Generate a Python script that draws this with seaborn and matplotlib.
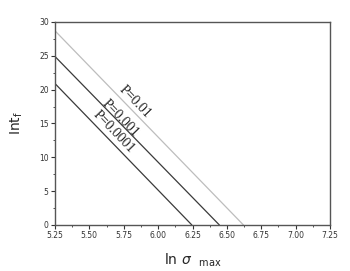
import matplotlib
matplotlib.use("Agg")
import matplotlib.pyplot as plt
import seaborn as sns
import pandas as pd
from matplotlib.ticker import MultipleLocator

# Data
labels = ["P=0.0001", "P=0.001", "P=0.01"]
x_start = [5.25, 5.25, 5.25]
y_start = [20.9, 24.9, 28.7]
x_end = [6.245, 6.445, 6.62]
y_end = [0.0, 0.0, 0.0]
label_x = [5.673, 5.723, 5.832]
label_y = [13.7, 15.8, 18.2]
colors = ["#3a3a3a", "#3a3a3a", "#bdbdbd"]

rows = []
for lab, xs, ys, xe, ye in zip(labels, x_start, y_start, x_end, y_end):
    rows.append({"P": lab, "x": xs, "y": ys})
    rows.append({"P": lab, "x": xe, "y": ye})
df = pd.DataFrame(rows)

sns.set_style("white")
plt.rcParams["font.family"] = ["DejaVu Sans"]

fig = plt.figure(figsize=(3.5, 2.71), dpi=100)
ax = fig.add_axes([0.157, 0.170, 0.786, 0.749])

sns.lineplot(data=df, x="x", y="y", hue="P", palette=dict(zip(labels, colors)),
             linewidth=0.9, legend=False, ax=ax, sort=False, estimator=None)

for lab, lx, ly in zip(labels, label_x, label_y):
    ax.text(lx, ly, lab, rotation=-46, ha="center", va="center",
            fontsize=10, family="Liberation Serif", color="#222222",
            rotation_mode="anchor")

ax.set_xlim(5.25, 7.25)
ax.set_ylim(0, 30)
ax.xaxis.set_major_locator(MultipleLocator(0.25))
ax.xaxis.set_minor_locator(MultipleLocator(0.125))
ax.yaxis.set_major_locator(MultipleLocator(5))
ax.yaxis.set_minor_locator(MultipleLocator(2.5))
ax.set_xticklabels([f"{v:.2f}" for v in ax.get_xticks()])
ax.tick_params(axis="both", which="major", direction="out", length=3, width=0.8,
               labelsize=5.5, colors="#333333", bottom=True, left=True, top=False, right=False, pad=1.5)
ax.tick_params(axis="both", which="minor", direction="out", length=1.5, width=0.6,
               colors="#333333", bottom=True, left=True, top=False, right=False)
for s in ax.spines.values():
    s.set_color("#555555")
    s.set_linewidth(1.0)

ax.set_xlabel(r"ln $\sigma$  $_{\rm max}$", fontsize=10, labelpad=8)
ax.set_ylabel(r"Int$_{\rm f}$", fontsize=10, labelpad=10)

fig.savefig("out.png", dpi=100)
